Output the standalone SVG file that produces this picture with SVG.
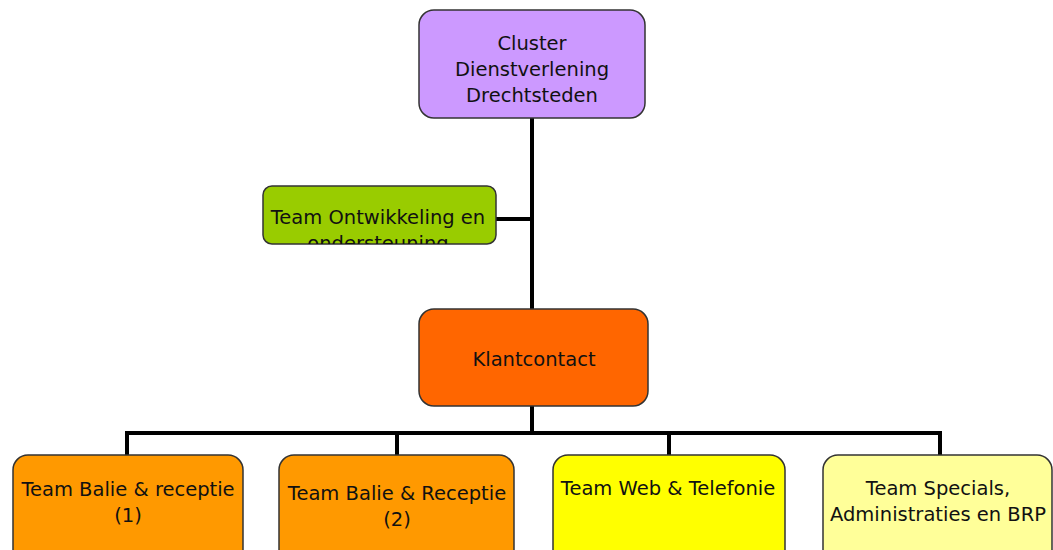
<svg xmlns="http://www.w3.org/2000/svg" width="1053" height="550" viewBox="0 0 1053 550">
<style>
.box{stroke:#333;stroke-width:1.5}
.t{font-family:"DejaVu Sans",Verdana,sans-serif;font-size:19.5px;fill:#111;text-anchor:middle}
.c{fill:none;stroke:#000;stroke-width:4}
</style>
<defs>
<clipPath id="cg"><rect x="263" y="186" width="233" height="58" rx="9"/></clipPath>
</defs>
<rect width="1053" height="550" fill="#fff"/>
<g id="connectors">
<path class="c" d="M532 118V309M496 219H532M532 406V433M127 455V433H940V455M397 433V455M669 433V455"/>
</g>
<g id="cluster">
<rect class="box" x="419" y="10" width="226" height="108" rx="15" fill="#CC99FF"/>
<text class="t" x="532" y="50">Cluster</text>
<text class="t" x="532" y="76">Dienstverlening</text>
<text class="t" x="532" y="102">Drechtsteden</text>
</g>
<g id="ontwikkeling">
<rect class="box" x="263" y="186" width="233" height="58" rx="9" fill="#99CC00"/>
<g clip-path="url(#cg)">
<text class="t" x="378" y="224">Team Ontwikkeling en</text>
<text class="t" x="378" y="250">ondersteuning</text>
</g>
</g>
<g id="klantcontact">
<rect class="box" x="419" y="309" width="229" height="97" rx="15" fill="#FF6600"/>
<text class="t" x="534" y="366">Klantcontact</text>
</g>
<g id="balie1">
<rect class="box" x="13" y="455" width="230" height="110" rx="15" fill="#FF9900"/>
<text class="t" x="128" y="496">Team Balie &amp; receptie</text>
<text class="t" x="128" y="522">(1)</text>
</g>
<g id="balie2">
<rect class="box" x="279" y="455" width="235" height="110" rx="15" fill="#FF9900"/>
<text class="t" x="397" y="500">Team Balie &amp; Receptie</text>
<text class="t" x="397" y="526">(2)</text>
</g>
<g id="web">
<rect class="box" x="553" y="455" width="232" height="110" rx="15" fill="#FFFF00"/>
<text class="t" x="668" y="495">Team Web &amp; Telefonie</text>
</g>
<g id="specials">
<rect class="box" x="823" y="455" width="229" height="110" rx="15" fill="#FFFF99"/>
<text class="t" x="938" y="495">Team Specials,</text>
<text class="t" x="938" y="521">Administraties en BRP</text>
</g>
</svg>
